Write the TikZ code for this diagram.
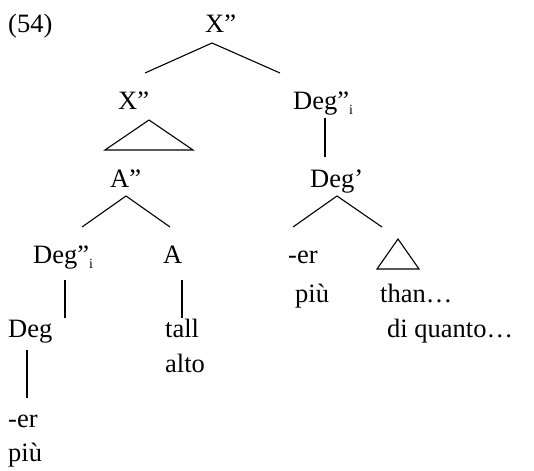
\documentclass[tikz,border=0pt]{standalone}
\usepackage{fontspec}
\setmainfont{Liberation Serif}
\newcommand\lowsub[1]{\raisebox{-5pt}{\fontsize{14}{14}\selectfont #1}}
\begin{document}
\begin{tikzpicture}[x=1pt,y=-1pt,
  lbl/.style={anchor=base west, inner sep=0pt, font=\fontsize{26.5}{30}\selectfont},
  edge/.style={line width=1.1pt}]
\useasboundingbox (0,0) rectangle (534,470);
% labels
\node[lbl] (ex)   at (8,33)   {(54)};
\node[lbl] (x1)   at (205,33) {X”};
\node[lbl] (x2)   at (118,110) {X”};
\node[lbl] (d1)   at (293,110) {Deg”\lowsub{i}};
\node[lbl] (a2)   at (110,187) {A”};
\node[lbl] (dp)   at (310,187) {Deg’};
\node[lbl] (d2)   at (33,263)  {Deg”\lowsub{i}};
\node[lbl] (a)    at (163,263) {A};
\node[lbl] (er1)  at (288,263) {-er};
\node[lbl] (piu1) at (295,302) {più};
\node[lbl] (than) at (380,302) {than…};
\node[lbl] (deg)  at (8,337)   {Deg};
\node[lbl] (tall) at (165,337) {tall};
\node[lbl] (diq)  at (387,337) {di quanto…};
\node[lbl] (alto) at (165,372) {alto};
\node[lbl] (er2)  at (8,427)   {-er};
\node[lbl] (piu2) at (8,461)   {più};
% edge end points
\coordinate (x1b) at (212,43);
\coordinate (x2t) at (145,73);
\coordinate (d1t) at (280,73);
\coordinate (d1b) at (325,118);
\coordinate (dpt) at (325,157);
\coordinate (a2b) at (126,196);
\coordinate (d2t) at (82,227);
\coordinate (at)  at (170,227);
\coordinate (dpb) at (337,196);
\coordinate (er1t) at (293,227);
\coordinate (st)  at (382,227);
\coordinate (d2b) at (65,280);
\coordinate (degt) at (65,318);
\coordinate (ab)  at (182,280);
\coordinate (tallt) at (182,318);
\coordinate (degb) at (27,350);
\coordinate (er2t) at (27,398);
% edges
\draw[edge] (x2t) -- (x1b) -- (d1t);
\draw[edge] (d1b) -- (dpt);
\draw[edge] (d2t) -- (a2b) -- (at);
\draw[edge] (er1t) -- (dpb) -- (st);
\draw[edge] (d2b) -- (degt);
\draw[edge] (ab) -- (tallt);
\draw[edge] (degb) -- (er2t);
% triangles
\draw[edge] (149,120) -- (105,150) -- (193,150) -- cycle;
\draw[edge] (398,239) -- (377,269) -- (419,269) -- cycle;
\end{tikzpicture}
\end{document}
